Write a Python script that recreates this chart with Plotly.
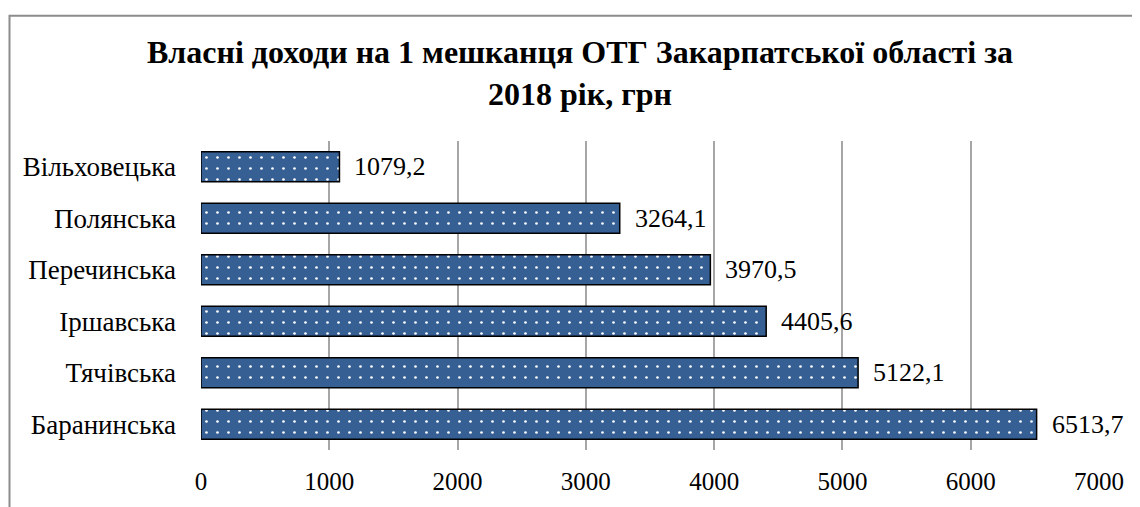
import plotly.graph_objects as go

categories = ["Баранинська", "Тячівська", "Іршавська", "Перечинська", "Полянська", "Вільховецька"]
values = [6513.7, 5122.1, 4405.6, 3970.5, 3264.1, 1079.2]
x_ticks = [0, 1000, 2000, 3000, 4000, 5000, 6000, 7000]
title_text = "<b>Власні доходи на 1 мешканця ОТГ Закарпатської області за<br>2018 рік, грн</b>"

labels = [f"{v:.1f}".replace(".", ",") for v in values]

FONT = "Liberation Serif"
OFF = 8  # page body margin
W, H = 1140 - OFF, 507 - OFF
ML, MR, MT, MB = 201 - OFF, 41, 141 - OFF, 55

fig = go.Figure()
fig.add_trace(go.Bar(
    x=values, y=categories, orientation="h",
    marker=dict(
        color="#365F94",
        line=dict(color="#000000", width=1.5),
        pattern=dict(shape=".", fgcolor="#ffffff", bgcolor="#365F94", size=11, solidity=0.045, fillmode="replace"),
    ),
    width=0.58,
    hoverinfo="skip",
))

for v, c, t in zip(values, categories, labels):
    fig.add_annotation(x=v, y=c, text=t, showarrow=False, xanchor="left", yanchor="middle",
                       xshift=13, font=dict(family=FONT, size=26, color="#000000"))

pw = W - ML - MR
ph = H - MT - MB
def px_x(p):
    return (p - OFF - ML) / pw
def px_y(p):
    return (H - MB - (p - OFF)) / ph

fig.add_shape(type="rect", xref="paper", yref="paper",
              x0=px_x(9.5), x1=px_x(1160), y0=px_y(530), y1=px_y(15),
              line=dict(color="#8C8C8C", width=2), fillcolor="rgba(0,0,0,0)", layer="below")

fig.update_layout(
    width=W, height=H,
    margin=dict(l=ML, r=MR, t=MT, b=MB, pad=0),
    paper_bgcolor="#ffffff", plot_bgcolor="#ffffff",
    showlegend=False,
    font=dict(family=FONT, size=26, color="#000000"),
    title=dict(text=title_text, x=(580 - OFF) / W, xanchor="center", y=1 - (63 - OFF) / H, yanchor="middle",
               xref="container", yref="container",
               font=dict(family=FONT, size=32, color="#000000")),
    xaxis=dict(range=[0, 7000], tickvals=x_ticks, ticktext=[str(t) for t in x_ticks],
               showgrid=True, gridcolor="#A6A6A6", gridwidth=1.5, zeroline=False,
               showline=False, ticks="", ticklabelstandoff=14,
               tickfont=dict(family=FONT, size=25, color="#000000")),
    yaxis=dict(categoryorder="array", categoryarray=categories, range=[-0.5, 5.5],
               showgrid=False, zeroline=False, showline=False, ticks="", ticklabelstandoff=24,
               tickfont=dict(family=FONT, size=27, color="#000000")),
)

fig.write_html("out.html")
